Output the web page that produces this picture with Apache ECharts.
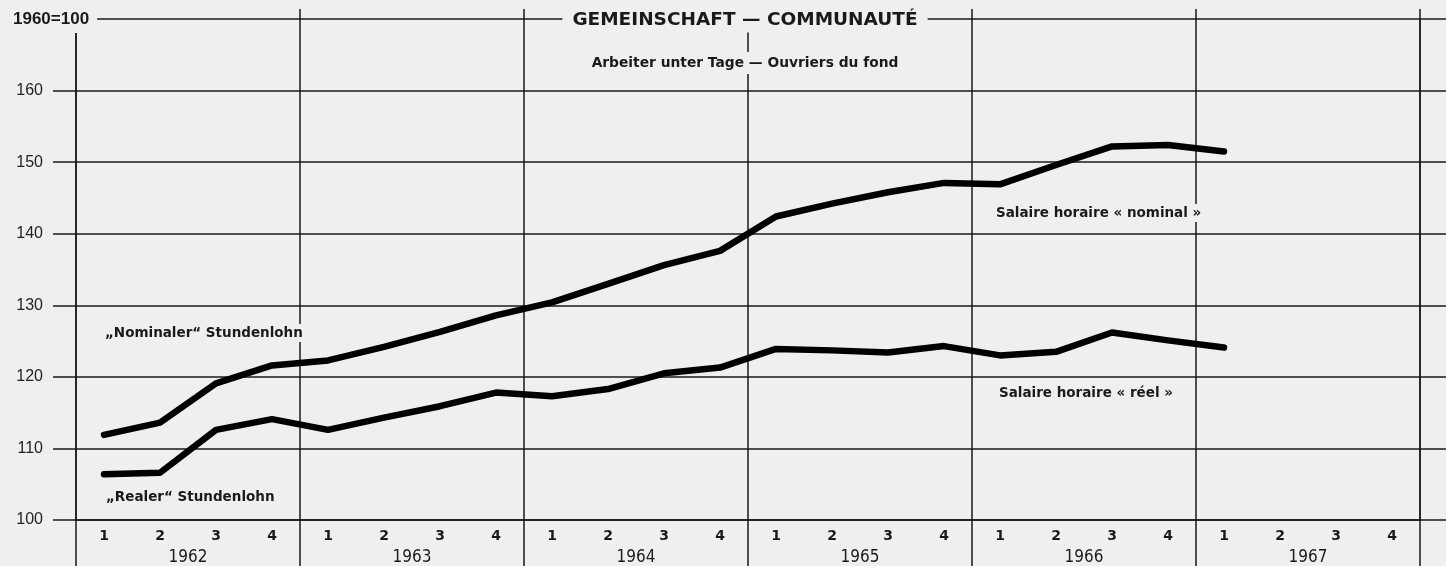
<!DOCTYPE html>
<html>
<head>
<meta charset="utf-8">
<script src="https://cdn.jsdelivr.net/npm/echarts@6/dist/echarts.min.js"></script>
<style>
  html, body { margin: 0; padding: 0; background: #efefef; }
  #chart { width: 1446px; height: 566px; }
</style>
</head>
<body>
<div id="chart"></div>
<script>
// quarters and years on the x axis
var years = ['1962', '1963', '1964', '1965', '1966', '1967']
var quarters = ['1', '2', '3', '4']
// index 1960 = 100
var nominal = [111.9, 113.6, 119.1, 121.6, 122.3, 124.2, 126.3, 128.6, 130.4, 133.0, 135.6, 137.6,
  142.4, 144.2, 145.8, 147.1, 146.9, 149.6, 152.2, 152.4, 151.5, null, null, null]
var real = [106.4, 106.6, 112.6, 114.1, 112.6, 114.3, 115.9, 117.8, 117.3, 118.3, 120.5, 121.3,
  123.9, 123.7, 123.4, 124.3, 123.0, 123.5, 126.2, 125.1, 124.1, null, null, null]
var yTicks = [100, 110, 120, 130, 140, 150, 160]

var categories = []
years.forEach(function(y) {
  quarters.forEach(function(q) { categories.push(y + '-' + q) })
})

var ink = '#1a1a1a'
var bg = '#efefef'
var yearEdge = function(i) { return i % 4 === 0 }

var chart = echarts.init(document.getElementById('chart'))

function label(text, x, y, size, align) {
  return {
    type: 'text', z: 100, x: x, y: y,
    style: {
      text: text, fill: ink, align: align || 'left', verticalAlign: 'middle',
      font: 'bold ' + size + 'px "DejaVu Sans"',
      backgroundColor: bg, padding: [2, 4]
    }
  }
}

chart.setOption({
  backgroundColor: bg,
  animation: false,
  grid: { left: 76, right: 26, top: 19, bottom: 46 },
  xAxis: [{
    type: 'category',
    data: categories,
    boundaryGap: true,
    axisLine: { show: true, lineStyle: { color: ink, width: 1.5 } },
    axisTick: { show: true, interval: function(i) { return yearEdge(i) }, length: 46, lineStyle: { color: ink, width: 1.5 } },
    axisLabel: {
      interval: 0, margin: 9, color: ink,
      fontFamily: 'DejaVu Sans', fontWeight: 'bold', fontSize: 14,
      formatter: function(v) { return v.split('-')[1] }
    },
    splitLine: { show: true, interval: function(i) { return yearEdge(i) }, lineStyle: { color: ink, width: 1.5 } }
  }, {
    type: 'category',
    data: years,
    position: 'bottom',
    boundaryGap: true,
    axisLine: { show: false },
    axisTick: { show: false },
    axisLabel: { margin: 29, color: ink, fontFamily: 'DejaVu Sans Condensed', fontSize: 17 }
  }, {
    type: 'category',
    data: categories,
    position: 'top',
    boundaryGap: true,
    axisLine: { show: false },
    axisTick: { show: true, interval: function(i) { return i > 0 && yearEdge(i) }, length: 10, lineStyle: { color: ink, width: 1.5 } },
    axisLabel: { show: false }
  }],
  yAxis: [{
    type: 'value',
    min: 100,
    max: 170,
    interval: 10,
    position: 'left',
    axisLine: { show: true, lineStyle: { color: ink, width: 1.5 } },
    axisTick: { show: true, length: 23, lineStyle: { color: ink, width: 1.5 } },
    axisLabel: {
      margin: 33, color: '#222', fontFamily: 'Liberation Sans', fontSize: 16,
      formatter: function(v) { return yTicks.indexOf(v) >= 0 ? String(v) : '' }
    },
    splitLine: { show: true, lineStyle: { color: ink, width: 1.5 } }
  }, {
    type: 'value',
    min: 100,
    max: 170,
    interval: 10,
    position: 'right',
    axisLine: { show: true, lineStyle: { color: ink, width: 1.5 } },
    axisTick: { show: true, length: 26, lineStyle: { color: ink, width: 1.5 } },
    axisLabel: { show: false },
    splitLine: { show: false }
  }],
  series: [{
    name: 'nominal',
    type: 'line',
    data: nominal,
    symbol: 'none',
    z: 10,
    lineStyle: { color: '#000', width: 6.5, join: 'round', cap: 'round' }
  }, {
    name: 'real',
    type: 'line',
    data: real,
    symbol: 'none',
    z: 10,
    lineStyle: { color: '#000', width: 6.5, join: 'round', cap: 'round' }
  }],
  graphic: [
    {
      // hides the top of the left axis under the base label, as in the print
      type: 'rect', z: 99, shape: { x: 70, y: 20, width: 12, height: 13 },
      style: { fill: bg }
    },
    {
      type: 'text', z: 100, x: 10, y: 19,
      style: {
        text: '1960=100', fill: ink, align: 'left', verticalAlign: 'middle',
        font: 'bold 17px "Liberation Sans"', backgroundColor: bg, padding: [3, 8, 3, 3]
      }
    },
    {
      type: 'text', z: 100, x: 745, y: 20,
      style: {
        text: 'GEMEINSCHAFT — COMMUNAUTÉ', fill: ink, align: 'center', verticalAlign: 'middle',
        font: 'bold 18.5px "DejaVu Sans"', backgroundColor: bg, padding: [3, 10]
      }
    },
    {
      type: 'text', z: 100, x: 745, y: 63,
      style: {
        text: 'Arbeiter unter Tage — Ouvriers du fond', fill: ink, align: 'center', verticalAlign: 'middle',
        font: 'bold 13.8px "DejaVu Sans"', backgroundColor: bg, padding: [4, 2]
      }
    },
    label('„Nominaler“ Stundenlohn', 101, 333, 13.5),
    label('„Realer“ Stundenlohn', 102, 497, 13.5),
    label('Salaire horaire « nominal »', 992, 213, 13.5),
    label('Salaire horaire « réel »', 995, 393, 13.5)
  ]
})
</script>
</body>
</html>
